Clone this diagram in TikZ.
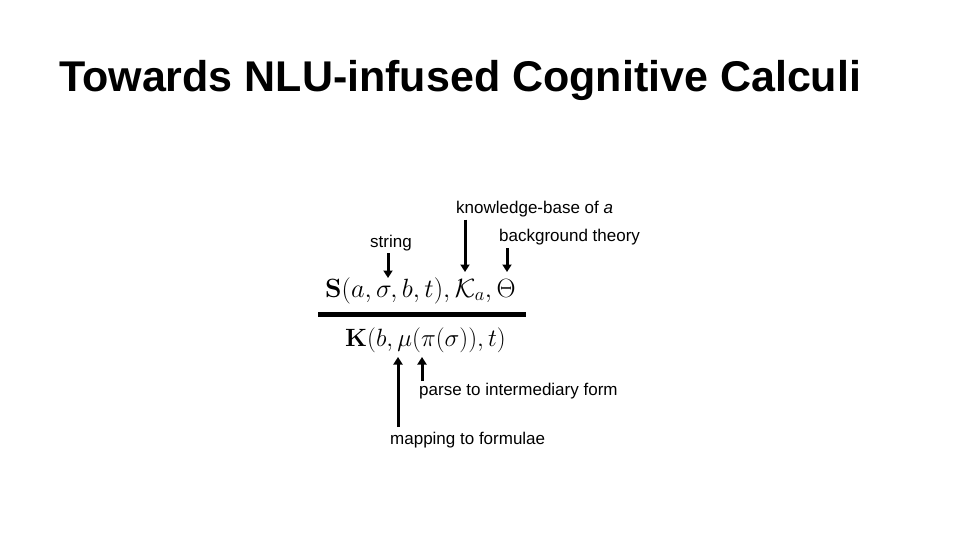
\RequirePackage{fix-cm}
\documentclass[tikz,border=0pt]{standalone}
\usepackage{amsmath}
\usepackage[no-math]{fontspec}
\setmainfont{Liberation Sans}
\usetikzlibrary{arrows.meta}
\tikzset{
  lbl/.style={inner sep=0pt, font=\fontsize{17}{20}\selectfont},
  frm/.style={inner sep=0pt, font=\fontsize{26.4}{31}\selectfont},
  frmb/.style={inner sep=0pt, font=\fontsize{25}{30}\selectfont},
  arr/.style={line width=3pt, -{Triangle[width=9pt,length=7.5pt]}},
}
\begin{document}
\begin{tikzpicture}[x=1pt,y=-1pt]
\useasboundingbox (0,0) rectangle (960,540);
\node[anchor=base west, inner sep=0pt, font=\fontsize{43}{48}\selectfont\bfseries] (title) at (59,92) {Towards NLU-infused Cognitive Calculi};

\node[frm, anchor=base west] (top) at (325,297) {$\mathbf{S}(a,\sigma,b,t),\mathcal{K}_a,\Theta$};
\node[frmb, anchor=base west] (bot) at (345,346) {$\mathbf{K}(b,\mu(\pi(\sigma)),t)$};
\draw[line width=4.5pt] (318,314.5) coordinate (rl) -- (526,314.5) coordinate (rr);

\node[lbl, anchor=base] (str) at (391,247) {string};
\node[lbl, anchor=base west] (kb) at (456,213) {knowledge-base of \textit{a}};
\node[lbl, anchor=base west] (bg) at (499,241) {background theory};
\node[lbl, anchor=base west] (parse) at (419,395) {parse to intermediary form};
\node[lbl, anchor=base west] (map) at (390,444) {mapping to formulae};

\coordinate (sig) at (388,278);
\coordinate (ka) at (465,272);
\coordinate (th) at (507,272);
\coordinate (mu) at (398,357);
\coordinate (pi) at (422,357);

\draw[arr] (388,253) -- (sig);
\draw[arr] (kb.south -| ka) ++(0,3) -- (ka);
\draw[arr] (507,248) -- (th);
\draw[arr] (398,427) -- (mu);
\draw[arr] (422,381) -- (pi);
\end{tikzpicture}
\end{document}
